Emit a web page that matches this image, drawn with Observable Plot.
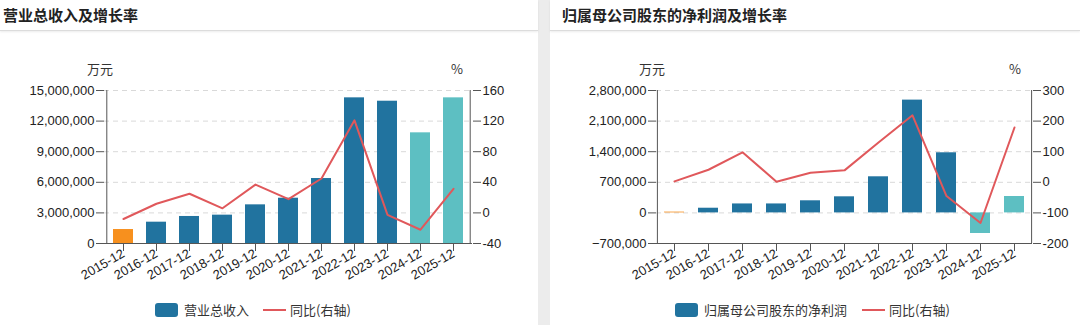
<!DOCTYPE html>
<html><head><meta charset="utf-8">
<script src="https://cdn.jsdelivr.net/npm/d3@7"></script>
<script src="https://cdn.jsdelivr.net/npm/@observablehq/plot@0.6"></script>
<style>
body{margin:0;width:1080px;height:325px;background:#fff;position:relative;overflow:hidden;font-family:"Liberation Sans",Arial,"Noto Sans CJK SC",sans-serif;color:#333}
.gap{position:absolute;left:538px;top:0;width:12px;height:325px;background:#ececec}
.panel{position:absolute;top:0;height:325px;background:#fff}
.title{position:absolute;top:0;left:0;right:0;height:30px;border-bottom:1px solid #dcdcdc;box-shadow:0 1px 2px rgba(0,0,0,0.08);font-family:"Noto Sans CJK SC",sans-serif;font-weight:bold;font-size:15px;line-height:30px;color:#222;white-space:nowrap}
.chart{position:absolute;top:30px;left:0;width:540px;height:265px}
.chart svg{position:absolute;left:0;top:0}
.unit{position:absolute;top:61px;font-family:"Noto Sans CJK SC",sans-serif;font-size:13px;color:#333;line-height:16px}
.lg{position:absolute;top:302px;height:16px;font-family:"Noto Sans CJK SC",sans-serif;font-size:13px;color:#333;line-height:16px;white-space:nowrap}
.sw{position:absolute;top:1px;width:23px;height:14px;border-radius:3px}
.ln{position:absolute;top:7px;width:23px;height:2px;background:#e0585b}
#err{position:absolute;left:0;top:100px;color:red;font-size:11px;z-index:9;white-space:pre-wrap}
</style></head>
<body>
<div class="gap"></div>
<div class="panel" id="p1" style="left:0;width:538px"></div>
<div class="panel" id="p2" style="left:550px;width:530px"></div>
<div id="err"></div>
<script>
// ---- data ----
const years = ["2015-12","2016-12","2017-12","2018-12","2019-12","2020-12","2021-12","2022-12","2023-12","2024-12","2025-12"];
const barKind = ["首年","实际","实际","实际","实际","实际","实际","实际","实际","预测","预测"];
const revenue = [1370000, 2090000, 2650000, 2780000, 3790000, 4440000, 6370000, 14280000, 13950000, 10850000, 14280000];
const revenueYoY = [-8, 12, 25, 6, 37, 18, 45, 121, -2.5, -22, 31.5];
const profit = [18000, 107000, 205000, 205000, 277000, 368000, 826000, 2580000, 1375000, -471000, 375000];
const profitYoY = [3, 41, 98, 2, 31, 39, 130, 219, -45, -133, 179];
const revTicks = [0, 3000000, 6000000, 9000000, 12000000, 15000000];
const revYoYTicks = [-40, 0, 40, 80, 120, 160];
const profitTicks = [-700000, 0, 700000, 1400000, 2100000, 2800000];
const profitYoYTicks = [-200, -100, 0, 100, 200, 300];
const titles = ["营业总收入及增长率", "归属母公司股东的净利润及增长率"];
const barNames = ["营业总收入", "归属母公司股东的净利润"];
const lineName = "同比(右轴)";
const unitLeft = "万元", unitRight = "%";

const kindColors = {domain: ["首年","实际","预测"], range: ["#f7901e","#21739f","#5dbfc2"]};
const FONT = "Liberation Sans, Arial, sans-serif";

function build(panelId, o) {
  const panel = document.getElementById(panelId);
  const t = document.createElement("div");
  t.className = "title"; t.style.paddingLeft = o.titlePad + "px"; t.textContent = o.title;
  panel.appendChild(t);
  const c = document.createElement("div");
  c.className = "chart";
  panel.appendChild(c);
  const u1 = document.createElement("div"); u1.className = "unit"; u1.style.left = o.u1 + "px"; u1.textContent = unitLeft; panel.appendChild(u1);
  const u2 = document.createElement("div"); u2.className = "unit"; u2.style.left = o.u2 + "px"; u2.textContent = unitRight; panel.appendChild(u2);
  const lg = document.createElement("div"); lg.className = "lg"; lg.style.left = o.lg + "px"; lg.style.width = "400px";
  lg.innerHTML = `<span class="sw" style="left:0;background:#21739f"></span><span style="position:absolute;left:29px">${o.barName}</span>` +
    `<span class="ln" style="left:${o.lgLine}px"></span><span style="position:absolute;left:${o.lgLine + 27}px">${lineName}</span>`;
  panel.appendChild(lg);

  const rows = years.map((y, i) => ({year: y, kind: barKind[i], v: o.bars[i], r: o.rate[i]}));
  const common = {
    width: o.width, height: 265,
    marginTop: 60, marginBottom: 52, marginLeft: o.ml, marginRight: o.mr,
    style: {fontFamily: FONT, fontSize: "13px", color: "#333", background: "transparent", overflow: "visible"},
    x: {type: "band", domain: years, paddingInner: 0.4, paddingOuter: 0.2}
  };
  const p1 = Plot.plot({
    ...common,
    y: {domain: [o.ticks[0], o.ticks[o.ticks.length - 1]]},
    color: kindColors,
    marks: [
      Plot.gridY(o.ticks.slice(1), {stroke: "#d9d9d9", strokeOpacity: 1, strokeDasharray: "5,4"}),
      Plot.barY(rows, {x: "year", y: "v", fill: "kind"}),
      Plot.ruleY([o.ticks[0]], {stroke: "#555"}),
      Plot.ruleX([years[0]], {stroke: "#555", dx: -o.half}),
      Plot.axisY({ticks: o.ticks, tickFormat: d3.format(","), tickSize: 8, tickPadding: 2, label: null, stroke: "#555", fill: "#222", fontSize: 13}),
      Plot.axisX({tickRotate: -30, tickSize: 8, tickPadding: 1, label: null, stroke: "#555", fill: "#222", fontSize: 13})
    ]
  });
  c.appendChild(p1);
  const p2 = Plot.plot({
    ...common,
    y: {domain: [o.rticks[0], o.rticks[o.rticks.length - 1]]},
    axis: null,
    marks: [
      Plot.ruleX([years[years.length - 1]], {stroke: "#555", dx: o.half}),
      Plot.lineY(rows, {x: "year", y: "r", stroke: "#e0585b", strokeWidth: 2}),
      Plot.axisY({anchor: "right", ticks: o.rticks, tickFormat: d => String(d), tickSize: 8, tickPadding: 2, label: null, stroke: "#555", fill: "#222", fontSize: 13})
    ]
  });
  c.appendChild(p2);
}

try {
build("p1", {title: titles[0], titlePad: 3, width: 538, ml: 104, mr: 66, half: 16.7, bars: revenue, rate: revenueYoY,
  ticks: revTicks, rticks: revYoYTicks, barName: barNames[0], u1: 87, u2: 451, lg: 155, lgLine: 108});
build("p2", {title: titles[1], titlePad: 12, width: 530, ml: 106, mr: 48, half: 17.1, bars: profit, rate: profitYoY,
  ticks: profitTicks, rticks: profitYoYTicks, barName: barNames[1], u1: 89, u2: 459, lg: 125, lgLine: 187});
} catch (e) { document.getElementById("err").textContent = String(e) + "\n" + e.stack; }
</script>
</body></html>
